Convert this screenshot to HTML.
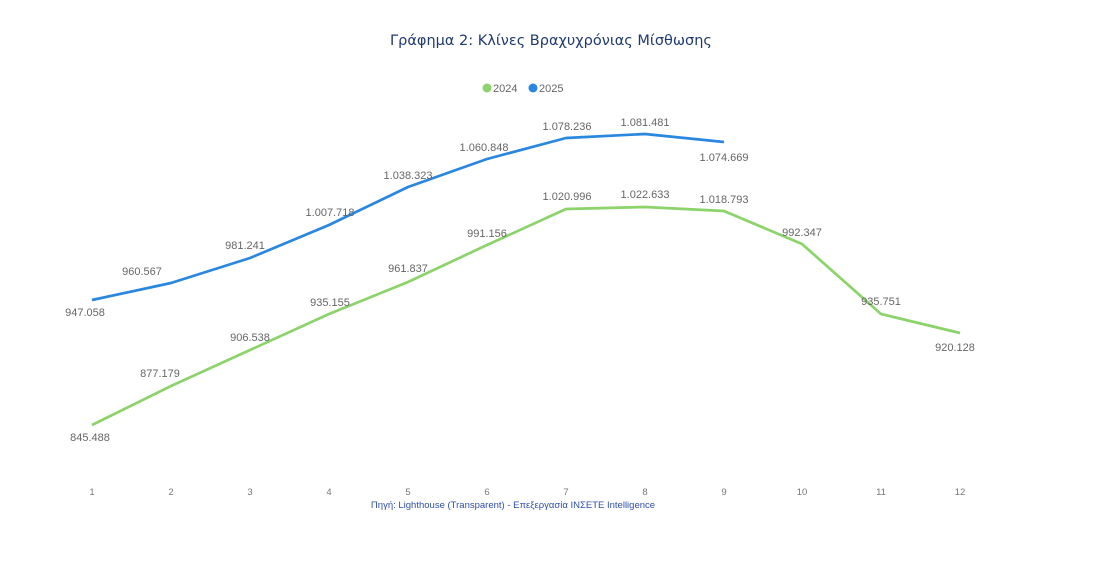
<!DOCTYPE html>
<html><head><meta charset="utf-8"><style>body{margin:0;background:#fff}svg{display:block}</style></head>
<body>
<svg width="1097" height="574" xmlns="http://www.w3.org/2000/svg">
<text x="551" y="45" text-anchor="middle" font-family="DejaVu Sans, sans-serif" font-size="14.5" fill="#1f3a6e">Γράφημα 2: Κλίνες Βραχυχρόνιας Μίσθωσης</text>
<circle cx="487" cy="88" r="4.5" fill="#8bd36a"/>
<text x="493" y="92" font-family="Liberation Sans, sans-serif" font-size="11" fill="#666">2024</text>
<circle cx="533" cy="88" r="4.5" fill="#2a87e0"/>
<text x="539" y="92" font-family="Liberation Sans, sans-serif" font-size="11" fill="#666">2025</text>
<polyline fill="none" stroke="#8bd36a" stroke-width="2.7" stroke-linejoin="round" points="92,425 171,386 250,350 329,314 408,282 487,245 566,209 645,207 724,211 802,244 881,314 960,333"/>
<polyline fill="none" stroke="#2a87e0" stroke-width="2.7" stroke-linejoin="round" points="92,300 171,283 250,258 329,225 408,187 487,159 566,138 645,134 724,142"/>
<g font-family="Liberation Sans, sans-serif" font-size="11" fill="#666" text-anchor="middle">
<text x="85" y="316">947.058</text><text x="142" y="275">960.567</text><text x="245" y="249">981.241</text>
<text x="330" y="216">1.007.718</text><text x="408" y="179">1.038.323</text><text x="484" y="151">1.060.848</text>
<text x="567" y="130">1.078.236</text><text x="645" y="126">1.081.481</text><text x="724" y="161">1.074.669</text>
<text x="90" y="441">845.488</text><text x="160" y="377">877.179</text><text x="250" y="341">906.538</text>
<text x="330" y="306">935.155</text><text x="408" y="272">961.837</text><text x="487" y="237">991.156</text>
<text x="567" y="200">1.020.996</text><text x="645" y="198">1.022.633</text><text x="724" y="203">1.018.793</text>
<text x="802" y="236">992.347</text><text x="881" y="305">935.751</text><text x="955" y="351">920.128</text>
</g>
<g font-family="Liberation Sans, sans-serif" font-size="9.5" fill="#777" text-anchor="middle">
<text x="92" y="495">1</text><text x="171" y="495">2</text><text x="250" y="495">3</text><text x="329" y="495">4</text>
<text x="408" y="495">5</text><text x="487" y="495">6</text><text x="566" y="495">7</text><text x="645" y="495">8</text>
<text x="724" y="495">9</text><text x="802" y="495">10</text><text x="881" y="495">11</text><text x="960" y="495">12</text>
</g>
<text x="513" y="508" text-anchor="middle" font-family="Liberation Sans, sans-serif" font-size="9.5" fill="#2e4fa8">Πηγή: Lighthouse (Transparent) - Επεξεργασία ΙΝΣΕΤΕ Intelligence</text>
</svg>
</body></html>
